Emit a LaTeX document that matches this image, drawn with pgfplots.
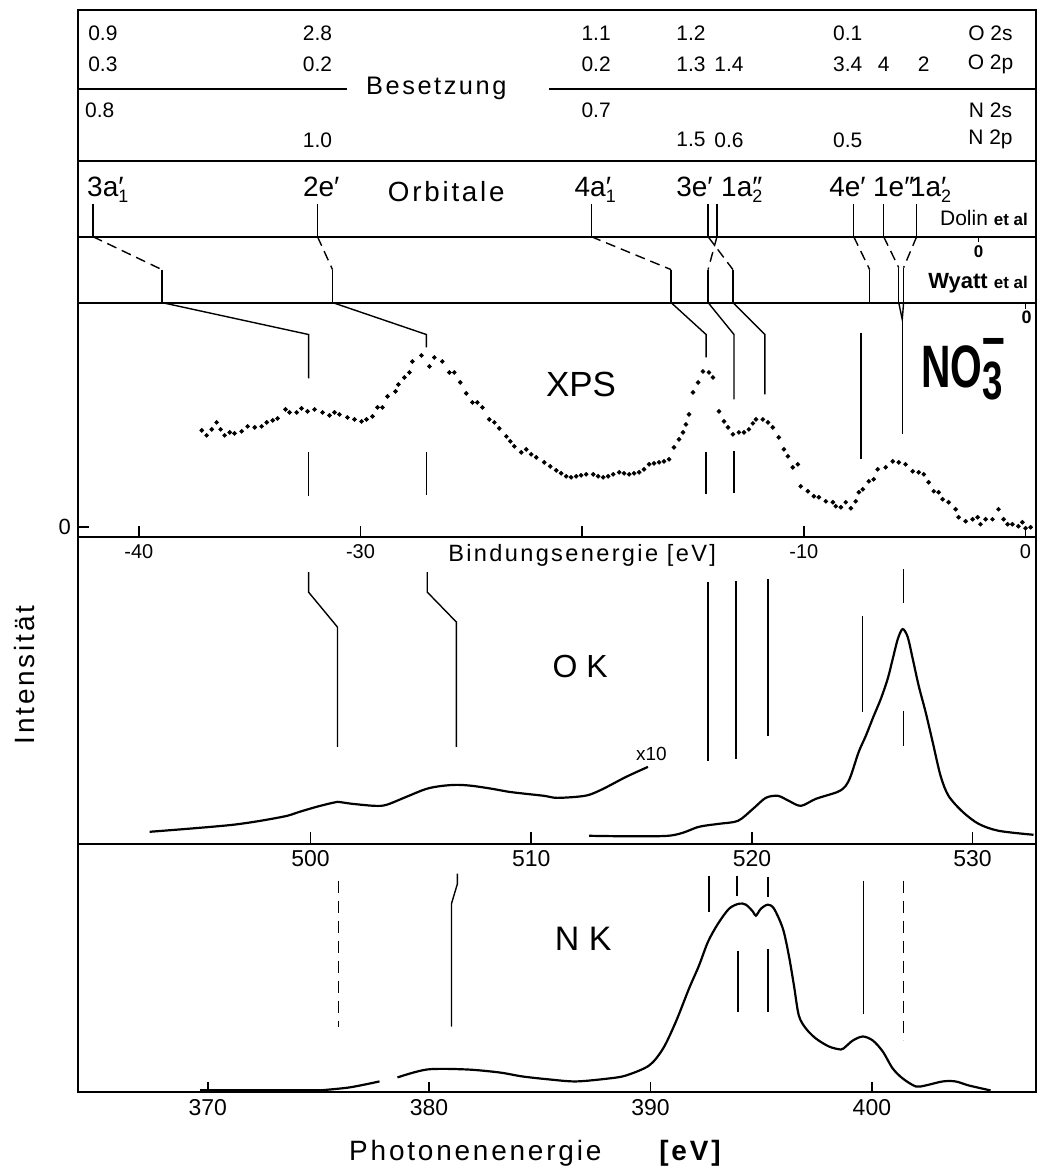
\documentclass[border=0pt]{standalone}
\usepackage{pgfplots}
\pgfplotsset{compat=1.18}
\usepackage{fontspec}
\usepackage{graphicx}
\setmainfont{Liberation Sans}
\newfontfamily\wide{Liberation Sans}[LetterSpace=10]
\newcommand\fs[1]{\fontsize{#1}{#1}\selectfont}
\newcommand\orb[3]{#1\rlap{#2}\raisebox{-0.45ex}{\fs{9}#3}}
\begin{document}
\begin{tikzpicture}
\pgfplotsset{
  panel/.style={scale only axis, width=479.5pt, y=0.5pt, anchor=south west, clip=false,
    axis line style={line width=1pt}, tick align=inside,
    xtick pos=left, ytick pos=left, major tick length=5pt,
    /pgf/number format/assume math mode=true,
    tick style={line width=0.8pt,black}},
  mk/.style={line width=0.7pt,black},
  mkd/.style={line width=0.7pt,black,dash pattern=on 5pt off 3pt},
  cv/.style={line width=1.1pt,black,smooth,tension=0.5},
}
\begin{scope}[x=0.5pt,y=-0.5pt]
\path (0,0) rectangle (1057,1173);
\end{scope}
% ================= top: Besetzung / Orbitale / Dolin / Wyatt  (y = px above bottom line)
\begin{axis}[panel, at={(39pt,-151.5pt)},
  xmin=-42.748, xmax=0.45, ymin=0, ymax=293,
  xtick=\empty, ytick=\empty]
\draw[line width=1pt] (axis cs:-42.748,214) -- (axis cs:-30.59,214);
\draw[line width=1pt] (axis cs:-21.49,214) -- (axis cs:0.45,214);
\draw[line width=1pt] (axis cs:-42.748,142) -- (axis cs:0.45,142);
\draw[line width=1pt] (axis cs:-42.748,66) -- (axis cs:0.45,66);
% table
\begin{scope}[every node/.style={font=\fs{10.5}}]
\node at (axis cs:-41.62,270) {0.9};
\node at (axis cs:-31.94,270) {2.8};
\node at (axis cs:-19.37,270) {1.1};
\node at (axis cs:-15.09,270) {1.2};
\node at (axis cs:-8.02,270) {0.1};
\node at (axis cs:-1.58,270) {O 2s};
\node at (axis cs:-41.62,239) {0.3};
\node at (axis cs:-31.94,239) {0.2};
\node at (axis cs:-19.37,239) {0.2};
\node at (axis cs:-15.09,239) {1.3};
\node at (axis cs:-13.38,239) {1.4};
\node at (axis cs:-8.02,239) {3.4};
\node at (axis cs:-6.40,239) {4};
\node at (axis cs:-4.59,239) {2};
\node at (axis cs:-1.58,239) {O 2p};
\node at (axis cs:-41.76,193) {0.8};
\node at (axis cs:-19.37,193) {0.7};
\node at (axis cs:-1.58,193) {N 2s};
\node at (axis cs:-31.94,163) {1.0};
\node at (axis cs:-15.09,163) {1.5};
\node at (axis cs:-13.38,163) {0.6};
\node at (axis cs:-8.02,163) {0.5};
\node at (axis cs:-1.58,163) {N 2p};
\end{scope}
\node[font=\wide\fs{12.7}] at (axis cs:-26.58,214) {Besetzung};
% orbitals
\begin{scope}[every node/.style={font=\fs{14}}]
\node at (axis cs:-41.40,113) {\orb{3a}{′}{1}};
\node at (axis cs:-31.89,113) {\orb{2e}{′}{}};
\node[font=\wide\fs{13.9}] at (axis cs:-26.13,111) {Orbitale};
\node at (axis cs:-19.41,113) {\orb{4a}{′}{1}};
\node at (axis cs:-15.05,113) {\orb{3e}{′}{}};
\node at (axis cs:-12.80,113) {\orb{1a}{″}{2}};
\node at (axis cs:-8.15,113) {\orb{4e}{′}{}};
\node at (axis cs:-6.17,113) {\orb{1e}{″}{}};
\node at (axis cs:-4.28,113) {\orb{1a}{′}{2}};
\end{scope}
\node[anchor=east] at (axis cs:0.42,85) {\fs{10.5}Dolin \fs{8.5}\bfseries et al};
\node[anchor=east] at (axis cs:0.42,19) {\fs{11}\bfseries Wyatt \fs{8.5}et al};
\draw[line width=0.8pt] (axis cs:-2.12,66) -- (axis cs:-2.12,61);
\node[font=\fs{8.5}\bfseries] at (axis cs:-2.12,51) {0};
% Dolin lines
\addplot[mk] coordinates {(-42.07,99) (-42.07,66)};
\addplot[mk] coordinates {(-31.94,99) (-31.94,66)};
\addplot[mk] coordinates {(-19.59,99) (-19.59,66)};
\addplot[mk] coordinates {(-14.32,99) (-14.32,66)};
\addplot[mk] coordinates {(-13.92,99) (-13.92,66)};
\addplot[mk] coordinates {(-7.75,99) (-7.75,66)};
\addplot[mk] coordinates {(-6.40,99) (-6.40,66)};
\addplot[mk] coordinates {(-4.91,99) (-4.91,66)};
% connectors Dolin -> Wyatt
\addplot[mkd] coordinates {(-42.07,66) (-38.96,33)};
\addplot[mkd] coordinates {(-31.94,66) (-31.26,33)};
\addplot[mkd] coordinates {(-19.59,66) (-15.99,33)};
\addplot[mkd] coordinates {(-14.32,66) (-13.20,33)};
\addplot[mkd] coordinates {(-13.92,66) (-14.32,33)};
\addplot[mkd] coordinates {(-7.75,66) (-7.03,33)};
\addplot[mkd] coordinates {(-6.40,66) (-5.72,35)};
\addplot[mkd] coordinates {(-4.91,66) (-5.50,35)};
% Wyatt lines
\addplot[mk] coordinates {(-38.96,33) (-38.96,0)};
\addplot[mk] coordinates {(-31.26,33) (-31.26,0)};
\addplot[mk] coordinates {(-15.99,33) (-15.99,0)};
\addplot[mk] coordinates {(-14.32,33) (-14.32,0)};
\addplot[mk] coordinates {(-13.20,33) (-13.20,0)};
\addplot[mk] coordinates {(-7.03,33) (-7.03,0)};
\addplot[mk] coordinates {(-5.72,35) (-5.72,0)};
\addplot[mk] coordinates {(-5.50,35) (-5.50,0)};
\end{axis}
% ================= XPS
\begin{axis}[panel, at={(39pt,-269pt)},
  xmin=-42.748, xmax=0.45, ymin=-10, ymax=225,
  xtick={-40,-30,-20,-10,0}, xticklabels={-40,-30,,-10,0},
  ytick={0}, yticklabels={0}, major tick length=5.5pt,
  xticklabel style={font=\fs{10}}, yticklabel style={font=\fs{11}}]
\addplot[only marks, mark=*, mark size=0.95pt, black] coordinates {
(-37.16,97) (-36.94,92) (-36.71,98) (-36.49,105) (-36.31,98) (-36.13,92) (-35.90,95) (-35.68,94) (-35.36,96) (-35.09,101) (-34.77,100) (-34.46,101) (-34.23,105) (-33.96,107) (-33.74,109) (-33.38,118) (-33.20,115) (-32.88,115) (-32.66,119) (-32.39,116) (-32.07,118) (-31.71,115) (-31.40,112) (-31.17,115) (-30.95,113) (-30.59,110) (-30.27,108) (-29.95,106) (-29.73,108) (-29.46,111) (-29.23,120) (-29.01,120) (-28.78,131) (-28.42,136) (-28.29,143) (-28.02,150) (-27.79,155) (-27.66,166) (-27.25,172) (-26.89,161) (-26.67,170) (-26.31,166) (-25.99,155) (-25.77,155) (-25.50,145) (-25.23,134) (-24.95,125) (-24.73,125) (-24.50,120) (-24.19,108) (-23.96,105) (-23.74,99) (-23.42,91) (-23.24,86) (-23.06,81) (-22.75,75) (-22.52,78) (-22.30,73) (-22.07,70) (-21.71,65) (-21.44,61) (-21.17,57) (-20.95,54) (-20.72,51) (-20.50,50) (-20.27,51) (-20.05,52) (-19.82,53) (-19.50,53) (-19.28,51) (-19.05,50) (-18.83,51) (-18.60,53) (-18.33,55) (-18.11,54) (-17.88,53) (-17.66,54) (-17.43,55) (-17.21,58) (-16.98,63) (-16.76,64) (-16.53,65) (-16.31,66) (-16.08,68) (-15.86,80) (-15.63,88) (-15.45,95) (-15.32,103) (-15.18,113) (-15.00,135) (-14.77,145) (-14.55,156) (-14.28,155) (-14.10,150) (-13.83,116) (-13.60,106) (-13.42,100) (-13.20,93) (-12.93,95) (-12.70,95) (-12.48,98) (-12.30,104) (-12.16,108) (-11.85,108) (-11.62,105) (-11.40,100) (-11.13,90) (-10.90,78) (-10.72,71) (-10.50,60) (-10.27,63) (-10.14,41) (-9.82,36) (-9.55,31) (-9.32,30) (-9.01,26) (-8.69,25) (-8.56,21) (-8.33,20) (-8.11,25) (-7.88,19) (-7.66,26) (-7.52,35) (-7.34,38) (-7.07,46) (-6.85,48) (-6.67,58) (-6.31,60) (-5.99,66) (-5.72,65) (-5.41,63) (-5.09,56) (-4.82,55) (-4.59,53) (-4.37,45) (-4.14,36) (-3.92,35) (-3.74,28) (-3.47,25) (-3.15,18) (-3.02,10) (-2.70,6) (-2.39,8) (-2.16,10) (-2.03,3) (-1.80,8) (-1.49,8) (-1.22,18) (-0.99,8) (-0.81,3) (-0.59,3) (-0.32,1) (-0.14,5) (0.00,-1) (0.23,0)
};
\addplot[mk] coordinates {(-38.96,225) (-32.34,193) (-32.34,149)};
\addplot[mk] coordinates {(-32.34,75) (-32.34,31)};
\addplot[mk] coordinates {(-31.26,225) (-27.03,193) (-27.03,180)};
\addplot[mk] coordinates {(-27.03,75) (-27.03,32)};
\addplot[mk] coordinates {(-15.99,225) (-14.41,193) (-14.41,170)};
\addplot[mk] coordinates {(-14.41,75) (-14.41,33)};
\addplot[mk] coordinates {(-14.32,225) (-13.15,193) (-13.15,128)};
\addplot[mk] coordinates {(-13.15,76) (-13.15,34)};
\addplot[mk] coordinates {(-13.20,225) (-11.76,193) (-11.76,133)};
\addplot[mk] coordinates {(-7.43,195) (-7.43,68)};
\addplot[mk] coordinates {(-5.72,225) (-5.56,208) (-5.50,225)};
\addplot[mk] coordinates {(-5.56,208) (-5.56,93)};
\draw[line width=0.8pt] (axis cs:0,225) -- (axis cs:0,219);
\node[font=\fs{9}\bfseries] at (axis cs:0.05,210) {0};
\node[font=\fs{17.5}] at (axis cs:-20.05,143) {XPS};
\node[font=\fs{30}\bfseries, anchor=base west, inner sep=0pt] at (axis cs:-4.73,140)
  {\scalebox{0.68}[1]{NO}\scalebox{0.68}[1]{\rlap{\raisebox{15pt}{–}}\raisebox{-6pt}{\fs{27}3}}};
\end{axis}
% ================= O K
\begin{axis}[panel, at={(39pt,-422.5pt)},
  xmin=489.457, xmax=532.851, ymin=0, ymax=307,
  xtick={500,510,520,530}, ytick=\empty, major tick length=6pt,
  xticklabel style={font=\fs{11.5}}]
\addplot[cv] coordinates {
(492.71,12) (496.47,19) (498.73,27) (499.50,32) (500.27,37) (500.995,41) (501.22,42) (501.90,40) (502.90,38) (503.44,39) (504.34,47) (505.25,55) (505.97,58) (506.65,59) (507.33,58) (508.24,55) (509.00,52) (509.77,50) (510.59,48) (511.13,46) (512.04,47) (512.62,49) (513.26,55) (514.30,67) (515.29,77)
};
\addplot[cv] coordinates {
(512.62,8) (516.20,8) (517.60,17) (518.51,20) (519.37,23) (520.05,35) (520.63,46) (521.18,48) (521.67,43) (522.22,38) (522.90,45) (523.89,52) (524.25,58) (524.48,68) (524.84,92) (525.16,108) (525.52,128) (525.84,145) (526.15,165) (526.38,185) (526.61,205) (526.83,215) (527.06,207) (527.29,185) (527.56,158) (527.87,132) (528.19,102) (528.55,68) (528.91,48) (529.55,32) (530.27,20) (531.18,13) (532.76,9)
};
\addplot[mk] coordinates {(499.91,272) (499.91,252) (501.22,217) (501.22,97)};
\addplot[mk] coordinates {(505.29,272) (505.29,252) (506.61,222) (506.61,97)};
\addplot[mk] coordinates {(518.01,262) (518.01,83)};
\addplot[mk] coordinates {(519.28,263) (519.28,85)};
\addplot[mk] coordinates {(520.72,265) (520.72,108)};
\addplot[mk] coordinates {(525.02,228) (525.02,132)};
\addplot[mk] coordinates {(526.88,275) (526.88,241)};
\addplot[mk] coordinates {(526.88,133) (526.88,98)};
\node[font=\fs{16}] at (axis cs:512.22,178) {O K};
\node[font=\fs{9.5}] at (axis cs:515.45,90) {x10};
\end{axis}
% ================= N K
\begin{axis}[panel, at={(39pt,-547pt)},
  xmin=364.136, xmax=407.39, ymin=0, ymax=249,
  xtick={370,380,390,400}, ytick=\empty,
  xticklabel style={font=\fs{11.5}}]
\addplot[line width=1.8pt,black] coordinates {(369.64,2) (375.05,2)};
\addplot[cv] coordinates {(375.05,2) (376.40,5) (377.76,11)};
\addplot[cv] coordinates {
(378.57,15) (379.92,23) (381.68,23) (383.17,20) (384.21,16) (385.43,13) (386.64,11) (388.13,14) (388.90,17) (389.94,27) (390.57,44) (391.15,71) (391.74,104) (392.19,127) (392.60,151) (393.05,169) (393.55,184) (394.00,189) (394.31,188) (394.63,181) (394.76,177) (394.99,184) (395.30,188) (395.58,184) (395.98,164) (396.25,137) (396.48,107) (396.70,77) (397.02,64) (397.47,54) (398.06,46) (398.60,43) (398.82,46) (399.14,52) (399.59,56) (400.04,52) (400.49,41) (400.94,24) (401.39,14) (401.98,6) (402.43,7) (403.20,11) (403.78,11) (404.37,7) (405.36,2)
};
\addplot[mkd, dash pattern=on 6pt off 4pt] coordinates {(375.91,212) (375.91,66)};
\addplot[mk] coordinates {(381.28,219) (381.28,209) (381.01,189) (381.01,66)};
\addplot[mk] coordinates {(392.64,217) (392.64,181)};
\addplot[mk] coordinates {(393.91,217) (393.91,197)};
\addplot[mk] coordinates {(393.95,142) (393.95,81)};
\addplot[mk] coordinates {(395.30,216) (395.30,196)};
\addplot[mk] coordinates {(395.30,144) (395.30,81)};
\addplot[mk] coordinates {(399.63,212) (399.63,79)};
\addplot[mkd, dash pattern=on 6pt off 4pt] coordinates {(401.44,212) (401.44,52)};
\node[font=\fs{17}] at (axis cs:386.96,154) {N K};
\end{axis}
% ================= outer labels
\begin{scope}[x=0.5pt,y=-0.5pt]
\node[font=\wide\fs{11.8}] at (583,556) {Bindungsenergie [eV]};
\node[font=\wide\fs{14}, rotate=90] at (25,676) {Intensität};
\node[font=\wide\fs{14}] at (476,1155) {Photonenenergie};
\node[font=\wide\fs{14}\bfseries] at (691,1155) {[eV]};
\end{scope}
\end{tikzpicture}
\end{document}
